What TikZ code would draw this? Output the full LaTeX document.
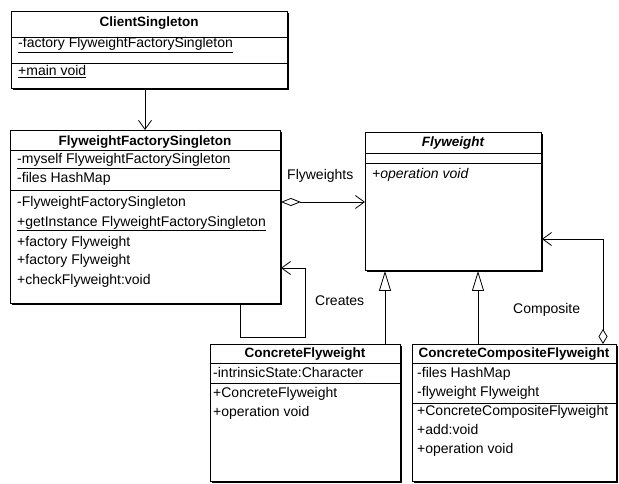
\documentclass[tikz,border=0pt]{standalone}
\usepackage{fontspec}
\setmainfont{Liberation Sans}
\usetikzlibrary{arrows.meta,shadows}
\tikzset{
  classbox/.style={draw, fill=white, line width=0.9pt, inner sep=0pt, anchor=north west,
    drop shadow={shadow xshift=2pt, shadow yshift=-2pt, opacity=1, fill=black}},
  sep/.style={line width=0.8pt},
  member/.style={anchor=base west, inner sep=0pt, font=\fontsize{14}{16}\selectfont},
  ctitle/.style={anchor=base, inner sep=0pt, font=\fontsize{13.5}{16}\selectfont\bfseries},
  lbl/.style={anchor=base west, inner sep=0pt, font=\fontsize{14}{16}\selectfont},
  conn/.style={line width=0.8pt},
  barb/.style={Straight Barb[length=9pt,width=13pt,line width=0.8pt]},
  assoc/.style={conn, -{Straight Barb[length=9pt,width=13pt,line width=0.8pt]}},
  inherit/.style={conn, -{Triangle[open,length=20pt,width=12pt,line width=0.8pt]}},
  aggr/.style={conn, {Diamond[open,length=20pt,width=8pt,line width=0.8pt]}-{Straight Barb[length=9pt,width=13pt,line width=0.8pt]}},
  compaggr/.style={conn, {Diamond[open,length=15pt,width=9pt,line width=0.8pt]}-{Straight Barb[length=9pt,width=13pt,line width=0.8pt]}},
}
\begin{document}
\begin{tikzpicture}[x=1pt,y=-1pt]
\useasboundingbox (0,0) rectangle (619,484);

% ClientSingleton
\node[classbox, minimum width=276pt, minimum height=77pt] (client) at (11,11) {};
\draw[sep] (client.west |- 0,37) -- (client.east |- 0,37);
\draw[sep] (client.west |- 0,63) -- (client.east |- 0,63);
\node[ctitle] (clientT) at (149,27) {ClientSingleton};
\node[member] (clientA) at (18,48) {\underline{-factory FlyweightFactorySingleton}};
\node[member] (clientM) at (18,76) {\underline{+main void}};

% FlyweightFactorySingleton
\node[classbox, minimum width=270pt, minimum height=173pt] (factory) at (10,130) {};
\draw[sep] (factory.west |- 0,150) -- (factory.east |- 0,150);
\draw[sep] (factory.west |- 0,190) -- (factory.east |- 0,190);
\node[ctitle] (factoryT) at (145,146) {FlyweightFactorySingleton};
\node[member] (factoryA1) at (17,164) {\underline{-myself FlyweightFactorySingleton}};
\node[member] (factoryA2) at (17,183) {-files HashMap};
\node[member] (factoryM1) at (17,207) {-FlyweightFactorySingleton};
\node[member] (factoryM2) at (17,226) {\underline{+getInstance FlyweightFactorySingleton}};
\node[member] (factoryM3) at (17,246) {+factory Flyweight};
\node[member] (factoryM4) at (17,265) {+factory Flyweight};
\node[member] (factoryM5) at (17,284) {+checkFlyweight:void};

% Flyweight (abstract)
\node[classbox, minimum width=176pt, minimum height=138pt] (fly) at (365,132) {};
\draw[sep] (fly.west |- 0,153) -- (fly.east |- 0,153);
\draw[sep] (fly.west |- 0,163) -- (fly.east |- 0,163);
\node[ctitle, font=\fontsize{13.5}{16}\selectfont\bfseries\itshape] (flyT) at (453,147) {Flyweight};
\node[member, font=\fontsize{14}{16}\selectfont\itshape] (flyM) at (372,179) {+operation void};

% ConcreteFlyweight
\node[classbox, minimum width=190pt, minimum height=137pt] (cf) at (210,344) {};
\draw[sep] (cf.west |- 0,363) -- (cf.east |- 0,363);
\draw[sep] (cf.west |- 0,383) -- (cf.east |- 0,383);
\node[ctitle] (cfT) at (305,357) {ConcreteFlyweight};
\node[member] (cfA) at (213,377) {-intrinsicState:Character};
\node[member] (cfM1) at (213,397) {+ConcreteFlyweight};
\node[member] (cfM2) at (213,416) {+operation void};

% ConcreteCompositeFlyweight
\node[classbox, minimum width=204pt, minimum height=137pt] (ccf) at (412,344) {};
\draw[sep] (ccf.west |- 0,363) -- (ccf.east |- 0,363);
\draw[sep] (ccf.west |- 0,403) -- (ccf.east |- 0,403);
\node[ctitle] (ccfT) at (514,357) {ConcreteCompositeFlyweight};
\node[member] (ccfA1) at (417,377) {-files HashMap};
\node[member] (ccfA2) at (417,396) {-flyweight Flyweight};
\node[member] (ccfM1) at (417,415) {+ConcreteCompositeFlyweight};
\node[member] (ccfM2) at (417,434) {+add:void};
\node[member] (ccfM3) at (417,453) {+operation void};

% connectors
\draw[assoc] (client.south -| 145,0) -- (factory.north -| 145,0);
\draw[aggr] (factory.east |- 0,202) -- (fly.west |- 0,202);
\node[lbl] (lblFly) at (287,180) {Flyweights};

\coordinate (loopA) at (240,337);
\coordinate (loopB) at (305,268);
\draw[assoc] (factory.south -| loopA) |- (loopB |- loopA) -- (loopB) -- (factory.east |- loopB);
\node[lbl] (lblCreates) at (315,305) {Creates};

\draw[inherit] (cf.north -| 385,0) -- (fly.south -| 385,0);
\draw[inherit] (ccf.north -| 478,0) -- (fly.south -| 478,0);

\coordinate (compC) at (603,239);
\draw[compaggr] (ccf.north -| compC) -- (compC) -- (fly.east |- compC);
\node[lbl] (lblComp) at (513,313) {Composite};
\end{tikzpicture}
\end{document}
